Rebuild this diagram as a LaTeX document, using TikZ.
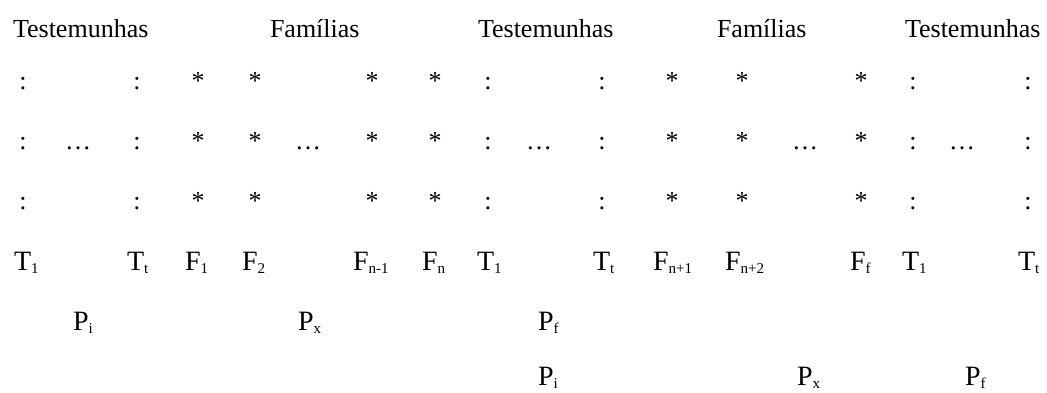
\documentclass[tikz,border=0pt]{standalone}
\usepackage{fontspec}
\setmainfont{Liberation Serif}
\newcommand{\sbx}[1]{\raisebox{-3pt}{\fontsize{15}{15}\selectfont #1}}
\begin{document}
\begin{tikzpicture}[x=1pt,y=-1pt,
  every node/.style={inner sep=0pt,outer sep=0pt},
  title/.style={anchor=base west,font=\fontsize{26}{30}\selectfont},
  glyph/.style={anchor=base,font=\fontsize{26}{30}\selectfont},
  lbl/.style={anchor=base west,font=\fontsize{28}{32}\selectfont}]
\useasboundingbox (0,0) rectangle (1047,392);
% titles
\node[title] (h1) at (13,37) {Testemunhas};
\node[title] (h2) at (270,37) {Famílias};
\node[title] (h3) at (478,37) {Testemunhas};
\node[title] (h4) at (717,37) {Famílias};
\node[title] (h5) at (905,37) {Testemunhas};
% grid rows
\foreach \y/\r in {89/a,149/b,209/c}{
  \foreach \x/\c in {23/1,137/2,488/3,602/4,913/5,1028/6}
    \node[glyph] (col\r\c) at (\x,\y) {:};
  \foreach \x/\c in {198/1,255/2,372/3,435/4,672/5,742/6,861/7}
    \node[glyph] (st\r\c) at (\x,\y) {*};
}
\foreach \x/\c in {78/1,308/2,539/3,805/4,962/5}
  \node[glyph] (el\c) at (\x,149) {…};
% labels
\node[lbl] (t1) at (14,270) {T\sbx{1}};
\node[lbl] (t2) at (127,270) {T\sbx{t}};
\node[lbl] (f1) at (185,270) {F\sbx{1}};
\node[lbl] (f2) at (242,270) {F\sbx{2}};
\node[lbl] (f3) at (353,270) {F\sbx{n-1}};
\node[lbl] (f4) at (422,270) {F\sbx{n}};
\node[lbl] (t3) at (477,270) {T\sbx{1}};
\node[lbl] (t4) at (593,270) {T\sbx{t}};
\node[lbl] (f5) at (653,270) {F\sbx{n+1}};
\node[lbl] (f6) at (725,270) {F\sbx{n+2}};
\node[lbl] (f7) at (850,270) {F\sbx{f}};
\node[lbl] (t5) at (902,270) {T\sbx{1}};
\node[lbl] (t6) at (1018,270) {T\sbx{t}};
% P rows
\node[lbl] (p1) at (73,330) {P\sbx{i}};
\node[lbl] (p2) at (298,330) {P\sbx{x}};
\node[lbl] (p3) at (538,330) {P\sbx{f}};
\node[lbl] (p4) at (538,385) {P\sbx{i}};
\node[lbl] (p5) at (797,385) {P\sbx{x}};
\node[lbl] (p6) at (965,385) {P\sbx{f}};
\end{tikzpicture}
\end{document}
